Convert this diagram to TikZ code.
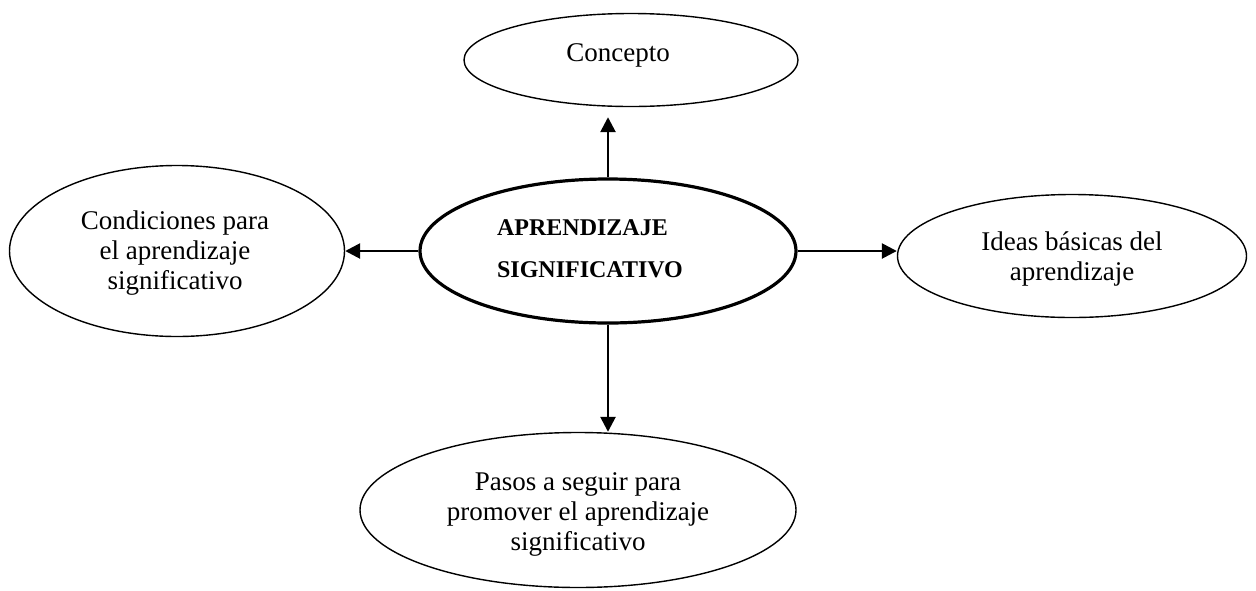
\documentclass[tikz,border=0pt]{standalone}
\usepackage{fontspec}
\setmainfont{Liberation Serif}
\usetikzlibrary{shapes.geometric,arrows.meta}
\begin{document}
\begin{tikzpicture}[x=1pt,y=-1pt,
  burbuja/.style={draw,ellipse,line width=1.4pt,inner sep=0pt},
  flecha/.style={line width=2.6pt,-{Triangle[length=15pt,width=15pt]}},
  texto/.style={align=center,font=\fontsize{27}{30}\selectfont}]
\useasboundingbox (0,0) rectangle (1256,590);
\node[burbuja,line width=3.2pt,minimum width=376pt,minimum height=144pt] (centro) at (608,251) {};
\node[burbuja,minimum width=334pt,minimum height=93pt] (concepto) at (631,60) {};
\node[burbuja,minimum width=335pt,minimum height=171pt] (condic) at (177,251) {};
\node[burbuja,minimum width=349pt,minimum height=123pt] (ideas) at (1072,256) {};
\node[burbuja,minimum width=436pt,minimum height=155pt] (pasos) at (578,510) {};
\node[align=left,font=\bfseries\fontsize{24}{42}\selectfont] (tcentro) at (590,249) {APRENDIZAJE\\SIGNIFICATIVO};
\node[texto] (tconcepto) at (618,55) {Concepto};
\node[texto] (tcondic) at (175,253) {Condiciones para\\el aprendizaje\\significativo};
\node[texto] (tideas) at (1072,259) {Ideas básicas del\\aprendizaje};
\node[texto] (tpasos) at (578,514) {Pasos a seguir para\\promover el aprendizaje\\significativo};
\draw[flecha] (centro.north) -- (centro.north |- concepto.south) [shorten >=10pt];
\draw[flecha] (centro.west) -- (condic.east);
\draw[flecha] (centro.east) -- (centro.east -| ideas.west);
\draw[flecha] (centro.south) -- (centro.south |- pasos.north);
\end{tikzpicture}
\end{document}
